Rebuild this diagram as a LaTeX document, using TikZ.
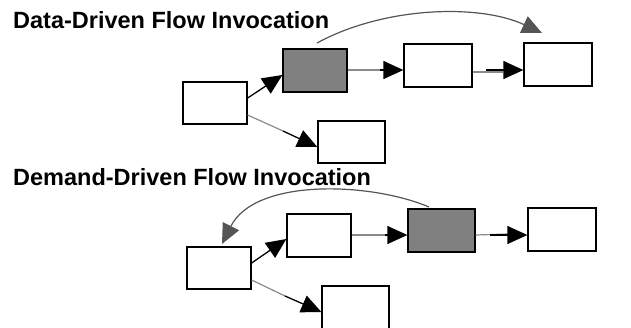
\documentclass[tikz,border=0pt]{standalone}
\usepackage{fontspec}
\setmainfont{Liberation Sans}
\usetikzlibrary{arrows.meta}
\definecolor{boxgray}{HTML}{808080}
\definecolor{linegray}{HTML}{8A8A8A}
\definecolor{curvegray}{HTML}{555555}
\tikzset{
  blk/.style={draw=black, line width=1.3pt, fill=white, inner sep=0pt},
  hot/.style={blk, fill=boxgray},
  title/.style={font=\fontsize{23.5}{26}\selectfont\bfseries, anchor=base west, inner sep=0pt},
  gpart/.style={draw=linegray, line width=1.2pt},
  bpart/.style={draw=black, line width=1.3pt, -{Triangle[length=20pt,width=18pt]}},
  back/.style={draw=curvegray, line width=1.2pt, -{Triangle[length=20pt,width=18pt]}, curvegray}
}
\begin{document}
\begin{tikzpicture}[x=1pt,y=-1pt]
\useasboundingbox (0,0) rectangle (631,327);
% titles
\node[title] (t1) at (13,28) {Data-Driven Flow Invocation};
\node[title] (t2) at (13,185) {Demand-Driven Flow Invocation};
% top diagram
\node[blk, minimum width=64pt, minimum height=42pt] (a1) at (215,103) {};
\node[hot, minimum width=64pt, minimum height=43pt] (b1) at (315,70.5) {};
\node[blk, minimum width=68pt, minimum height=43pt] (c1) at (438,65.5) {};
\node[blk, minimum width=68pt, minimum height=43pt] (d1) at (558,64.5) {};
\node[blk, minimum width=67pt, minimum height=42pt] (e1) at (351.5,142) {};
\draw[bpart] (a1.east |- 0,98) -- (b1.west |- 0,75);
\coordinate (m1) at (283,131);
\draw[gpart] (a1.east |- 0,115) -- (m1);
\draw[bpart] (m1) -- (e1.west |- 0,147);
\coordinate (m2) at (380,70);
\draw[gpart] (b1.east |- 0,70) -- (m2);
\draw[bpart] (m2) -- (c1.west |- 0,70);
\coordinate (m3g) at (503,72);
\coordinate (m3) at (486,70);
\draw[gpart] (c1.east |- 0,72) -- (m3g);
\draw[bpart] (m3) -- (d1.west |- 0,70);
\coordinate (s1) at (317,43);
\coordinate (f1) at (542,33);
\draw[back] (s1) .. controls (385,6) and (480,4) .. (f1);
% bottom diagram
\node[blk, minimum width=64pt, minimum height=42pt] (a2) at (219,268) {};
\node[blk, minimum width=64pt, minimum height=43pt] (b2) at (319,235.5) {};
\node[hot, minimum width=67pt, minimum height=43pt] (g2) at (441.5,230.5) {};
\node[blk, minimum width=68pt, minimum height=43pt] (d2) at (562,229.5) {};
\node[blk, minimum width=67pt, minimum height=43pt] (e2) at (355.5,307.5) {};
\draw[bpart] (a2.east |- 0,263) -- (b2.west |- 0,239);
\coordinate (n1) at (285,296);
\draw[gpart] (a2.east |- 0,280) -- (n1);
\draw[bpart] (n1) -- (e2.west |- 0,312);
\coordinate (n2) at (385,235);
\draw[gpart] (b2.east |- 0,235) -- (n2);
\draw[bpart] (n2) -- (g2.west |- 0,235);
\coordinate (n3g) at (508,234);
\coordinate (n3) at (490,235);
\draw[gpart] (g2.east |- 0,235) -- (n3g);
\draw[bpart] (n3) -- (d2.west |- 0,235);
\coordinate (s2) at (429,207);
\coordinate (f2) at (222,244);
\draw[back] (s2) .. controls (370,182) and (255,178) .. (f2);
\end{tikzpicture}
\end{document}
